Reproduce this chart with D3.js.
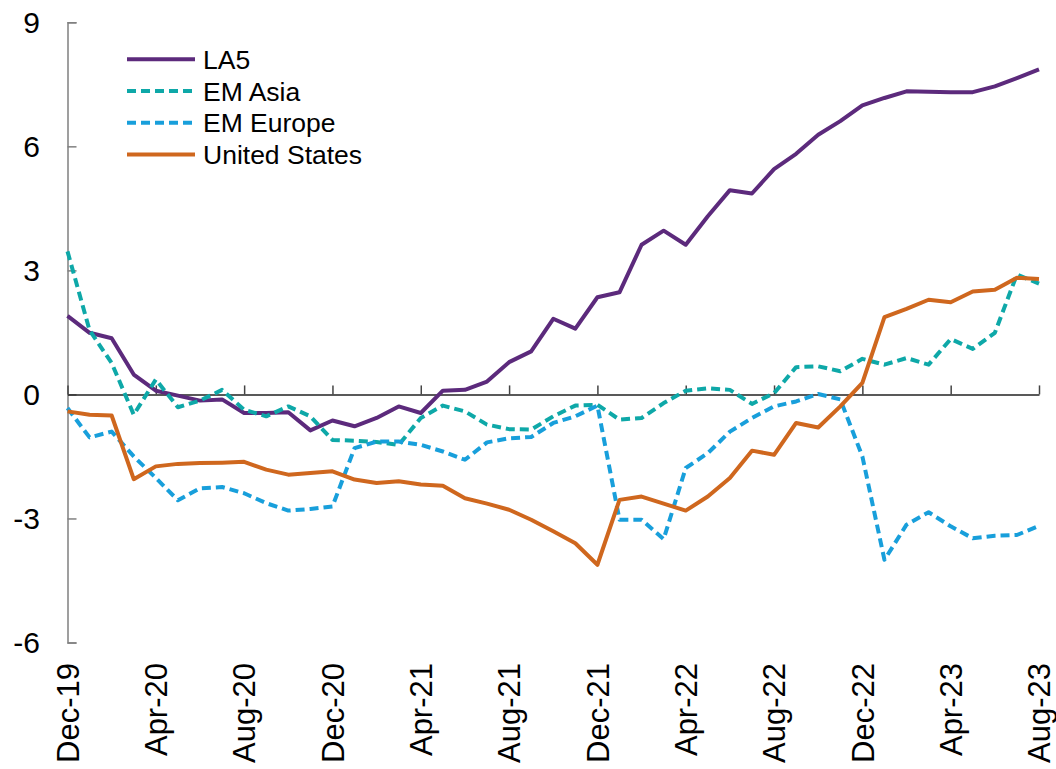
<!DOCTYPE html>
<html>
<head>
<meta charset="utf-8">
<script src="https://cdn.jsdelivr.net/npm/d3@7"></script>
<style>
  body { margin: 0; background: #fff; }
  svg { font-family: "Liberation Sans", Arial, sans-serif; }
</style>
</head>
<body>
<div id="div1"></div>
<script>

// monthly, Dec-19 .. Aug-23
let months = ["Dec-19","Jan-20","Feb-20","Mar-20","Apr-20","May-20","Jun-20","Jul-20","Aug-20","Sep-20","Oct-20","Nov-20",
              "Dec-20","Jan-21","Feb-21","Mar-21","Apr-21","May-21","Jun-21","Jul-21","Aug-21","Sep-21","Oct-21","Nov-21",
              "Dec-21","Jan-22","Feb-22","Mar-22","Apr-22","May-22","Jun-22","Jul-22","Aug-22","Sep-22","Oct-22","Nov-22",
              "Dec-22","Jan-23","Feb-23","Mar-23","Apr-23","May-23","Jun-23","Jul-23","Aug-23"];

let la5 = [1.90,1.49,1.36,0.48,0.09,-0.03,-0.15,-0.12,-0.45,-0.45,-0.43,-0.87,
           -0.63,-0.77,-0.57,-0.29,-0.45,0.09,0.11,0.31,0.78,1.04,1.83,1.59,
           2.35,2.47,3.62,3.96,3.62,4.31,4.94,4.86,5.45,5.82,6.28,6.61,
           6.99,7.17,7.33,7.32,7.31,7.31,7.45,7.65,7.86];

let emAsia = [3.46,1.55,0.76,-0.49,0.36,-0.31,-0.15,0.11,-0.37,-0.53,-0.29,-0.53,
              -1.10,-1.12,-1.15,-1.22,-0.57,-0.27,-0.41,-0.73,-0.84,-0.85,-0.53,-0.27,
              -0.25,-0.61,-0.57,-0.21,0.09,0.15,0.11,-0.23,0.03,0.66,0.68,0.56,
              0.86,0.72,0.88,0.72,1.34,1.10,1.49,2.90,2.68];

let emEurope = [-0.33,-1.04,-0.90,-1.50,-2.02,-2.56,-2.27,-2.24,-2.39,-2.63,-2.81,-2.77,
                -2.71,-1.30,-1.14,-1.14,-1.22,-1.38,-1.58,-1.16,-1.06,-1.03,-0.69,-0.53,
                -0.27,-3.03,-3.03,-3.50,-1.78,-1.42,-0.90,-0.57,-0.29,-0.17,0.01,-0.12,
                -1.50,-4.00,-3.15,-2.85,-3.19,-3.48,-3.42,-3.40,-3.18];

let unitedStates = [-0.41,-0.49,-0.51,-2.05,-1.74,-1.68,-1.66,-1.65,-1.63,-1.82,-1.94,-1.90,
                    -1.86,-2.06,-2.14,-2.10,-2.18,-2.21,-2.51,-2.64,-2.79,-3.03,-3.31,-3.60,
                    -4.12,-2.55,-2.47,-2.64,-2.81,-2.47,-2.02,-1.36,-1.46,-0.69,-0.80,-0.29,
                    0.28,1.87,2.07,2.29,2.23,2.49,2.53,2.82,2.79];

let seriesNames = ["LA5", "EM Asia", "EM Europe", "United States"];
let yTicks = [-6, -3, 0, 3, 6, 9];
let xTickLabels = months.filter((m, i) => i % 4 === 0);

let series = [
  { name: seriesNames[0], values: la5,          color: "#5c2a7c", dash: null },
  { name: seriesNames[1], values: emAsia,       color: "#0ea8a8", dash: "9,5" },
  { name: seriesNames[2], values: emEurope,     color: "#189fdb", dash: "9,5" },
  { name: seriesNames[3], values: unitedStates, color: "#cf671e", dash: null }
];

let width = 1056, height = 769;

let svg = d3.select("#div1").append("svg")
  .attr("width", width)
  .attr("height", height);

let x = d3.scalePoint()
  .domain(months)
  .range([67.5, 1039]);

let y = d3.scaleLinear()
  .domain([-6, 9])
  .range([642.5, 22.3]);

// y axis, ticks pointing inward
let yAxis = svg.append("g")
  .attr("transform", "translate(" + x(months[0]) + ",0)")
  .call(d3.axisRight(y).tickValues(yTicks).tickSize(9).tickFormat(""));
yAxis.select(".domain").attr("stroke", "#808080").attr("stroke-width", 1.5);
yAxis.selectAll(".tick line").attr("stroke", "#808080").attr("stroke-width", 1.5);

svg.append("g").selectAll("text")
  .data(yTicks)
  .enter()
  .append("text")
  .attr("x", 40)
  .attr("y", d => y(d))
  .attr("dy", "0.36em")
  .attr("text-anchor", "end")
  .style("font-size", "30px")
  .text(d => d);

// x axis sits on zero
let xAxis = svg.append("g")
  .attr("transform", "translate(0," + y(0) + ")")
  .call(d3.axisTop(x).tickValues(xTickLabels).tickSize(9).tickSizeOuter(0).tickFormat(""));
xAxis.select(".domain").attr("stroke", "#222").attr("stroke-width", 1.5);
xAxis.selectAll(".tick line").attr("stroke", "#444").attr("stroke-width", 1.5);

svg.append("g").selectAll("text")
  .data(xTickLabels)
  .enter()
  .append("text")
  .attr("transform", d => "translate(" + x(d) + ",663) rotate(-90)")
  .attr("dy", "0.36em")
  .attr("text-anchor", "end")
  .style("font-size", "31px")
  .text(d => d);

// lines
let line = d3.line()
  .x((d, i) => x(months[i]))
  .y(d => y(d));

svg.append("g").selectAll("path")
  .data(series)
  .enter()
  .append("path")
  .attr("d", d => line(d.values))
  .call(styleLine);

function styleLine(selection) {
  selection.attr("fill", "none")
           .attr("stroke", d => d.color)
           .attr("stroke-width", 4)
           .attr("stroke-linejoin", "round")
           .attr("stroke-dasharray", d => d.dash);
}

// legend
let legend = svg.append("g").selectAll("g")
  .data(series)
  .enter()
  .append("g")
  .attr("transform", (d, i) => "translate(127," + (59.3 + i * 31.7) + ")");

legend.append("path")
  .attr("d", "M0,0H68")
  .call(styleLine);

legend.append("text")
  .attr("x", 76)
  .attr("dy", "0.36em")
  .style("font-size", "26.5px")
  .text(d => d.name);

</script>
</body>
</html>
